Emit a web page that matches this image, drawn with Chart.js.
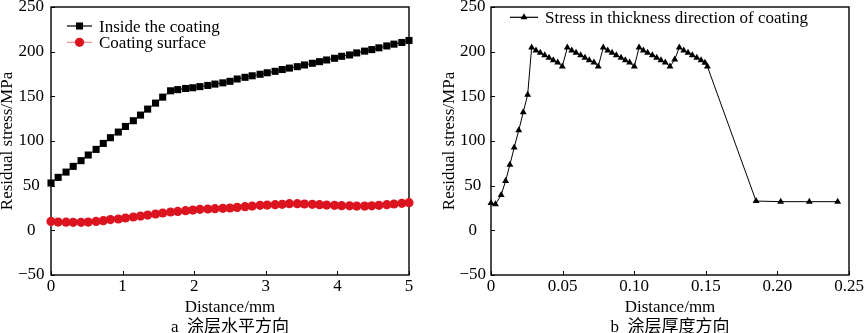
<!DOCTYPE html>
<html>
<head>
<meta charset="utf-8">
<script src="https://cdn.jsdelivr.net/npm/chart.js@4/dist/chart.umd.min.js"></script>
<style>
  html, body { margin: 0; padding: 0; background: #fff; overflow: hidden; }
  #wrap { position: relative; width: 865px; height: 333px; overflow: hidden; }
  canvas { position: absolute; top: 0; }
  #horiz { left: 0; }
  #thick { left: 430px; }
</style>
</head>
<body>
<div id="wrap">
  <canvas id="horiz" width="430" height="338"></canvas>
  <canvas id="thick" width="435" height="338"></canvas>
</div>
<script>
// ===== 数据 =====
// a: 涂层水平方向 (distance in mm)
const distance = [0, 0.10, 0.21, 0.31, 0.42, 0.52, 0.63, 0.73, 0.83, 0.94,
  1.04, 1.15, 1.25, 1.35, 1.46, 1.56, 1.67, 1.77, 1.88, 1.98,
  2.08, 2.19, 2.29, 2.40, 2.50, 2.60, 2.71, 2.81, 2.92, 3.02,
  3.13, 3.23, 3.33, 3.44, 3.54, 3.65, 3.75, 3.85, 3.96, 4.06,
  4.17, 4.27, 4.38, 4.48, 4.58, 4.69, 4.79, 4.90, 5.00];
const insideStress = [53, 59.3, 65.2, 71.6, 78, 84.3, 90.6, 97.3, 103.7, 110,
  116.3, 122.7, 129, 135.7, 142.4, 149.1, 156.2, 157.5, 158.8, 159.6,
  160.9, 162.2, 163.7, 165.1, 166.8, 169.4, 171.3, 173, 174.7, 176.4,
  178, 180, 181.6, 183.2, 185.1, 187, 188.8, 190.7, 192.6, 194.8,
  196.3, 198.6, 200.6, 202.3, 204.3, 206.4, 208.4, 210.3, 212.5];
const surfaceStress = [10, 9.2, 9.1, 9, 9, 9.3, 10, 10.8, 12, 12.7,
  13.8, 14.9, 16, 17.1, 18.3, 19.4, 20.5, 21.2, 22, 22.7,
  23.5, 23.9, 24.2, 24.6, 25, 25.7, 26.5, 27.2, 28, 28.3,
  28.7, 29.1, 29.8, 29.8, 29.5, 29.1, 28.7, 28.3, 28, 27.6,
  27.4, 27.2, 27.2, 27.4, 28, 28.7, 29.5, 30.2, 31];

// b: 涂层厚度方向 (depth in mm)
const depth = [0, 0.0031, 0.0071, 0.0102, 0.0132, 0.0162, 0.0194, 0.0225, 0.0256,
  0.0284, 0.0314, 0.0344, 0.0375, 0.0405, 0.0435, 0.0466, 0.0498,
  0.0533, 0.0564, 0.0594, 0.0626, 0.0656, 0.0686, 0.0719, 0.0749,
  0.0784, 0.0815, 0.0845, 0.0875, 0.0908, 0.0938, 0.0968, 0.1001,
  0.1034, 0.1064, 0.1094, 0.1127, 0.1157, 0.1187, 0.1217, 0.1250,
  0.1283,
  0.1315, 0.1346, 0.1376, 0.1406, 0.1437, 0.1467, 0.1494, 0.1511,
  0.1851, 0.2023, 0.2223, 0.2421];
const depthStress = [30.5, 29.1, 39.5, 55.3, 73.5, 92.6, 112, 132.1, 151.8,
  204.7, 201.3, 198.8, 196.1, 193.2, 190.5, 187.9, 183.4,
  204.7, 201.3, 198.8, 196.1, 193.2, 190.5, 187.9, 183.4,
  204.7, 201.3, 198.8, 196.1, 193.2, 190.5, 187.9, 183.4,
  204.7, 201.3, 198.8, 196.1, 193.2, 190.5, 187.9, 183.4,
  191.1,
  204.7, 201.3, 198.8, 196.1, 193.2, 190.5, 187.5, 183.4,
  32.8, 32.1, 32.1, 32.1];

const stressTicks = [-50, 0, 50, 100, 150, 200, 250];

const SERIF = "'Liberation Serif', 'Times New Roman', 'Noto Sans CJK SC', serif";
const pairs = (xs, ys) => xs.map((x, i) => ({ x, y: ys[i] }));

// 外框 + 朝内的刻度线 (只在左轴和底轴)
const frameAndTicks = {
  id: 'frameAndTicks',
  beforeDatasetsDraw(chart) {
    const { ctx, chartArea: a, scales: { x, y } } = chart;
    ctx.save();
    ctx.strokeStyle = '#000';
    ctx.lineWidth = 1;
    ctx.beginPath();
    x.ticks.forEach(t => {
      const px = Math.round(x.getPixelForValue(t.value)) + 0.5;
      ctx.moveTo(px, a.bottom); ctx.lineTo(px, a.bottom - 4);
    });
    y.ticks.forEach(t => {
      const py = Math.round(y.getPixelForValue(t.value)) + 0.5;
      ctx.moveTo(a.left, py); ctx.lineTo(a.left + 4, py);
    });
    ctx.stroke();
    ctx.lineWidth = 1.4;
    ctx.strokeRect(a.left, a.top, a.right - a.left, a.bottom - a.top);
    ctx.restore();
  }
};

// 图内图例 (线段 + 标记 + 文字)
const seriesKey = {
  id: 'seriesKey',
  afterDraw(chart, args, o) {
    const ctx = chart.ctx;
    ctx.save();
    ctx.font = o.size + 'px ' + SERIF;
    ctx.textBaseline = 'alphabetic';
    ctx.textAlign = 'left';
    chart.data.datasets.forEach((ds, i) => {
      const y = o.y + i * o.rowGap;
      ctx.strokeStyle = ds.borderColor;
      ctx.lineWidth = 1.2;
      ctx.beginPath();
      ctx.moveTo(o.x, y); ctx.lineTo(o.x + o.lineLength, y);
      ctx.stroke();
      ctx.fillStyle = ds.pointBackgroundColor;
      ctx.strokeStyle = ds.pointBorderColor;
      Chart.helpers.drawPoint(ctx, {
        pointStyle: ds.pointStyle, radius: ds.pointRadius, rotation: 0, borderWidth: 0
      }, o.x + o.lineLength / 2, y);
      ctx.fillStyle = '#000';
      ctx.fillText(ds.label, o.textX, y + 5.8);
    });
    ctx.restore();
  }
};

function stressChart(canvas, cfg) {
  return new Chart(canvas.getContext('2d'), {
    type: 'line',
    data: { datasets: cfg.datasets },
    plugins: [frameAndTicks, seriesKey],
    options: {
      responsive: false,
      animation: false,
      layout: { padding: { top: 7, right: cfg.padRight, bottom: 0, left: 0 } },
      plugins: {
        legend: { display: false },
        tooltip: { enabled: false },
        seriesKey: cfg.key
      },
      scales: {
        x: {
          type: 'linear',
          min: cfg.xMin, max: cfg.xMax,
          grid: { display: false, drawTicks: false },
          border: { display: false },
          ticks: {
            stepSize: cfg.xStep, color: '#000', padding: 1,
            font: { family: SERIF, size: 17 },
            callback: cfg.xLabel
          },
          title: {
            display: true, text: cfg.xTitle, color: '#000',
            font: { family: SERIF, size: 17, lineHeight: 1.18 },
            padding: 0
          },
          afterFit(s) { s.height = 63; s.paddingLeft = 0; s.paddingRight = 0; }
        },
        y: {
          min: -50, max: 250,
          grid: { display: false, drawTicks: false },
          border: { display: false },
          afterBuildTicks(s) { s.ticks = stressTicks.map(v => ({ value: v })); },
          ticks: {
            color: '#000', padding: cfg.yPad, crossAlign: 'center',
            font: { family: SERIF, size: 17 },
            callback: v => (v < 0 ? '\u2212' + Math.abs(v) : String(v))
          },
          title: {
            display: true, text: 'Residual stress/MPa', color: '#000',
            font: { family: SERIF, size: 17, lineHeight: 1 },
            padding: { top: cfg.yTitlePad, bottom: 0 }
          },
          afterFit(s) { s.width = cfg.yWidth; s.paddingTop = 0; s.paddingBottom = 0; }
        }
      }
    }
  });
}

stressChart(document.getElementById('horiz'), {
  xMin: 0, xMax: 5, xStep: 1,
  xLabel: v => String(v),
  xTitle: ['Distance/mm', 'a  涂层水平方向'],
  padRight: 21, yWidth: 51, yPad: 6.5, yTitlePad: -1,
  key: { x: 67, y: 26, rowGap: 16.3, lineLength: 25, textX: 99, size: 17 },
  datasets: [
    {
      label: 'Inside the coating',
      data: pairs(distance, insideStress),
      borderColor: '#000', borderWidth: 1,
      pointStyle: 'rect', pointRadius: 5,
      pointBackgroundColor: '#000', pointBorderColor: '#000', pointBorderWidth: 0,
      tension: 0, clip: false
    },
    {
      label: 'Coating surface',
      data: pairs(distance, surfaceStress),
      borderColor: '#f08a8e', borderWidth: 1,
      pointStyle: 'circle', pointRadius: 4.6,
      pointBackgroundColor: '#dc1420', pointBorderColor: '#dc1420', pointBorderWidth: 0,
      tension: 0, clip: false
    }
  ]
});

stressChart(document.getElementById('thick'), {
  xMin: 0, xMax: 0.25, xStep: 0.05,
  xLabel: v => (v === 0 ? '0' : v.toFixed(2)),
  xTitle: ['Distance/mm', 'b  涂层厚度方向'],
  padRight: 16, yWidth: 61, yPad: 5, yTitlePad: 11,
  key: { x: 80, y: 17.3, rowGap: 16.3, lineLength: 28, textX: 115, size: 17 },
  datasets: [
    {
      label: 'Stress in thickness direction of coating',
      data: pairs(depth, depthStress),
      borderColor: '#000', borderWidth: 1,
      pointStyle: 'triangle', pointRadius: 4,
      pointBackgroundColor: '#000', pointBorderColor: '#000', pointBorderWidth: 0,
      tension: 0, clip: false
    }
  ]
});
</script>
</body>
</html>
